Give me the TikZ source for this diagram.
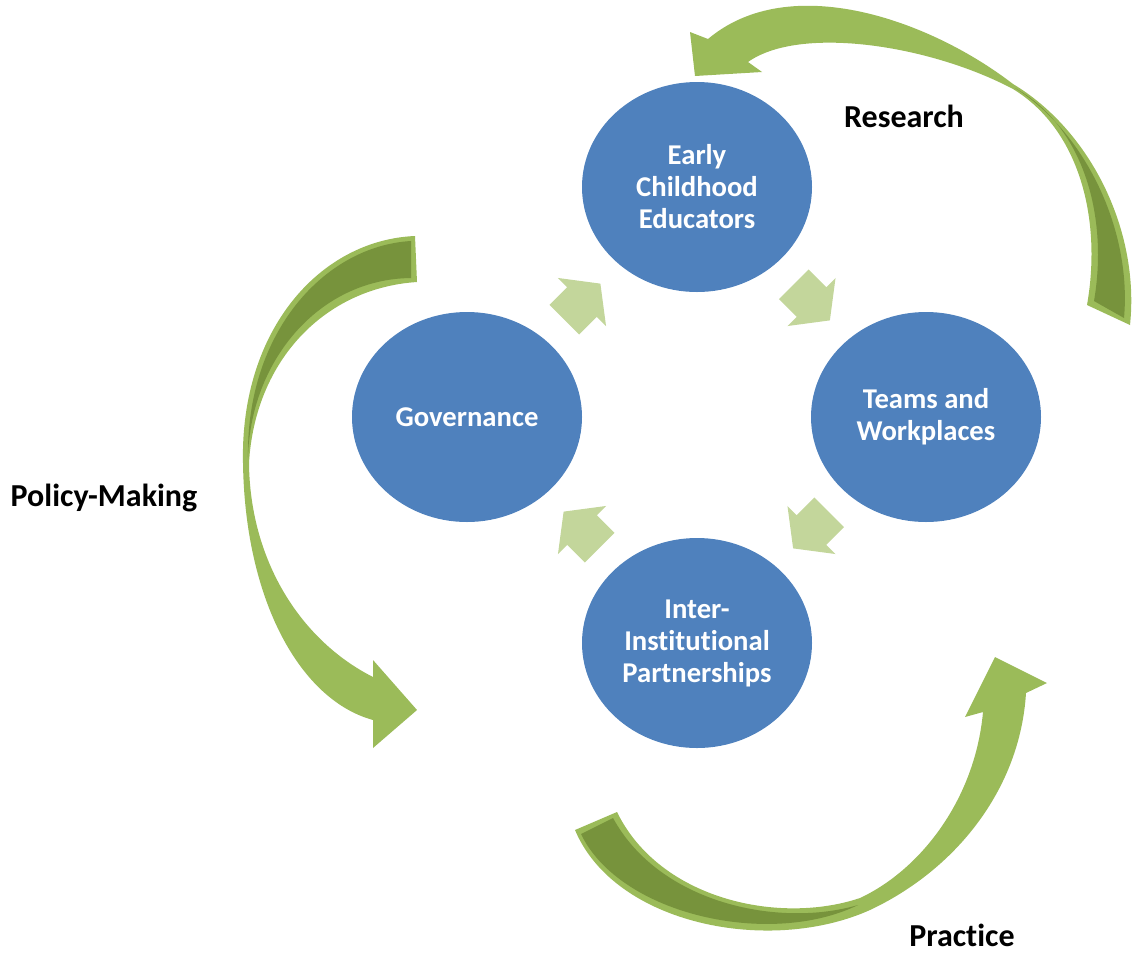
\documentclass[tikz,border=0pt]{standalone}
\usepackage{fontspec}
\setmainfont{Carlito}[Ligatures=NoCommon]
\usetikzlibrary{shapes.geometric,calc}

\definecolor{bubbleblue}{HTML}{4F81BD}
\definecolor{leafgreen}{HTML}{9BBB59}
\definecolor{olivegreen}{HTML}{77933C}
\definecolor{palegreen}{HTML}{C3D69B}

\begin{document}
\begin{tikzpicture}[x=0.75pt,y=-0.75pt,
    bubble/.style={ellipse,fill=bubbleblue,minimum width=172.5pt,minimum height=157.5pt,
      inner sep=0pt,text=white,align=center,font=\fontsize{21.5}{24}\selectfont\bfseries},
    flowlabel/.style={anchor=base,inner sep=0pt,font=\fontsize{24}{26}\selectfont\bfseries},
    smallarrow/.style={fill=palegreen},
    bigarrow/.style={fill=leafgreen},
    twist/.style={fill=olivegreen}]

    \useasboundingbox (0,0) rectangle (1135,954);

    %the four circles
    \node[bubble] (ece)   at (697,187) {Early\\Childhood\\Educators};
    \node[bubble] (gov)   at (467,417) {Governance};
    \node[bubble] (teams) at (926,417) {Teams and\\Workplaces};
    \node[bubble] (inter) at (697,643) {Inter-\\Institutional\\Partnerships};

    %small arrows between circles
    \foreach \from/\to/\ang in {gov/ece/45, ece/teams/-45, teams/inter/-135, inter/gov/135} {
      \fill[smallarrow, shift={($(\from)!0.5!(\to)$)}, rotate=\ang]
        (-25,-21) -- (0,-21) -- (0,-34) -- (26,0) -- (0,34) -- (0,21) -- (-25,21) -- cycle;
    }

    %research arrow
    \fill[bigarrow] (1087,305) -- (1130,325)
      .. controls (1140,230) and (1090,130) .. (1013,84)
      .. controls (930,20) and (790,-30) .. (708,39)
      -- (690,32) -- (695,76) -- (762,72) -- (748,62)
      .. controls (800,25) and (930,45) .. (1013,89)
      .. controls (1080,130) and (1102,220) .. (1087,305)
      -- cycle;
    \fill[twist] (1015,88) .. controls (1085,132) and (1132,230) .. (1124,318)
      -- (1094,301) .. controls (1108,220) and (1086,128) .. (1015,88)
      -- cycle;

    %policy arrow
    \fill[bigarrow] (415,236)
      .. controls (320,240) and (240,330) .. (243,463)
      .. controls (245,600) and (300,700) .. (373,720)
      -- (373,748) -- (417,710) -- (373,660) -- (373,677)
      .. controls (300,640) and (250,560) .. (249,463)
      .. controls (255,360) and (325,288) .. (417,282)
      -- cycle;
    \fill[twist] (411,241) .. controls (325,246) and (246,332) .. (248,458)
      .. controls (250,362) and (318,279) .. (411,278)
      -- cycle;

    %practice arrow
    \fill[bigarrow] (575,830)
      .. controls (615,925) and (770,955) .. (870,910)
      .. controls (955,870) and (1020,790) .. (1026,693)
      -- (1047,683) -- (995,657) -- (965,717) -- (983,712)
      .. controls (975,800) and (920,870) .. (860,898)
      .. controls (780,925) and (660,900) .. (617,812)
      -- cycle;
    \fill[twist] (581,834) .. controls (620,915) and (770,948) .. (858,905)
      .. controls (780,928) and (660,904) .. (613,818)
      -- cycle;

    %labels
    \node[flowlabel] (research) at (904,127) {Research};
    \node[flowlabel] (policy)   at (104,506) {Policy-Making};
    \node[flowlabel] (practice) at (962,946) {Practice};

\end{tikzpicture}
\end{document}
